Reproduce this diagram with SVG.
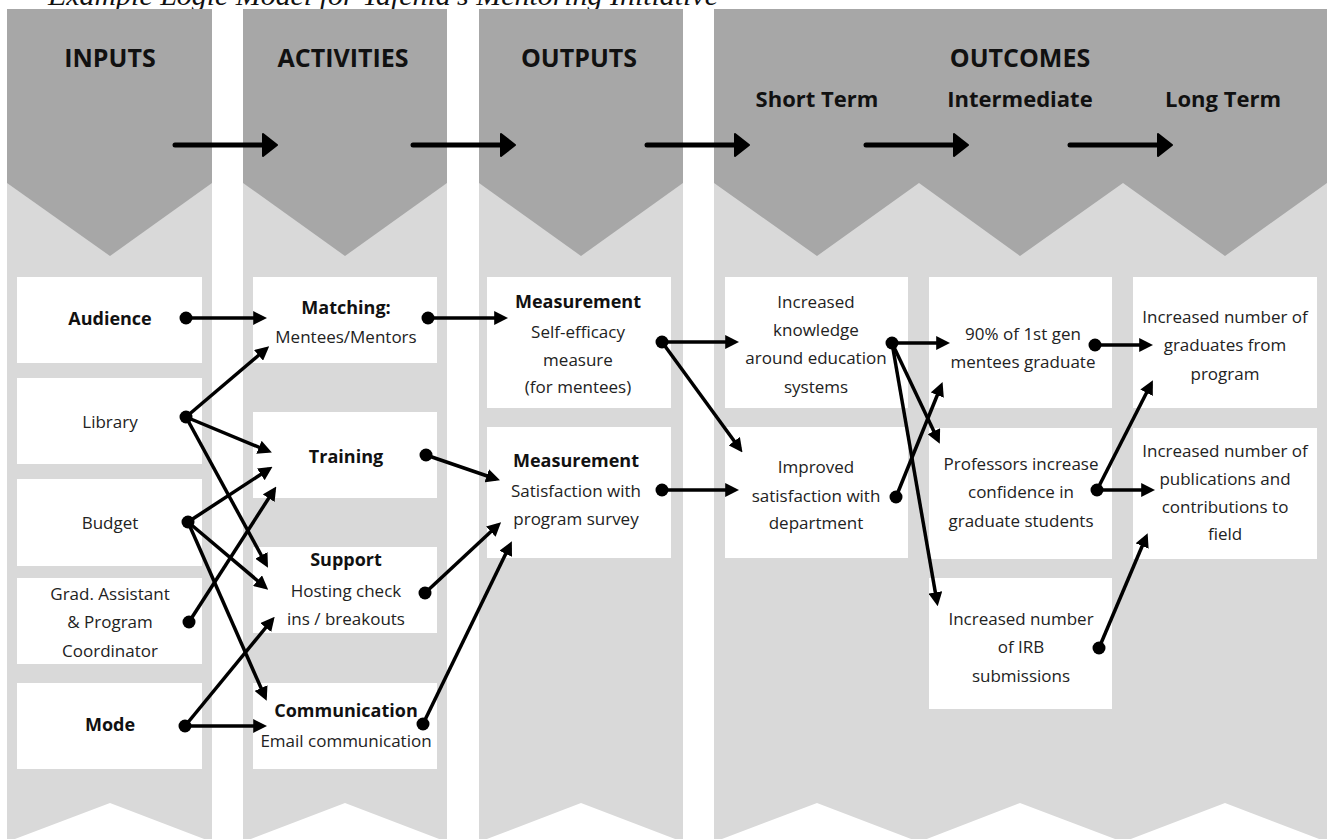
<svg xmlns="http://www.w3.org/2000/svg" width="1327" height="839" viewBox="0 0 1327 839">
<defs>
<style>
.dark{fill:#a7a7a7}
.light{fill:#d9d9d9}
.box{fill:#ffffff}
.h1{font-family:"Open Sans","Noto Sans",sans-serif;font-weight:bold;font-size:25px;fill:#111;text-anchor:middle}
.h2{font-family:"Open Sans","Noto Sans",sans-serif;font-weight:bold;font-size:22px;fill:#111;text-anchor:middle}
.b{font-family:"Open Sans","Noto Sans",sans-serif;font-weight:bold;font-size:18px;fill:#111;text-anchor:middle}
.t{font-family:"Open Sans","Noto Sans",sans-serif;font-size:17px;fill:#222;text-anchor:middle}
.title{font-family:"Liberation Serif",serif;font-style:italic;font-size:28px;fill:#111}
.con line{stroke:#000;stroke-width:3.5;marker-end:url(#ah)}
.con circle{fill:#000}
.flow line{stroke:#000;stroke-width:5;stroke-linecap:round;marker-end:url(#bah)}
</style>
<marker id="ah" viewBox="0 0 10 10" markerUnits="userSpaceOnUse" markerWidth="14" markerHeight="14" refX="7" refY="5" orient="auto">
<path d="M0,0 L10,5 L0,10 z" fill="#000"/>
</marker>
<marker id="bah" viewBox="0 0 16 24" markerUnits="userSpaceOnUse" markerWidth="16" markerHeight="24" refX="10" refY="12" orient="auto">
<path d="M1,1 L15,12 L1,23 z" fill="#000" stroke="#000" stroke-width="2" stroke-linejoin="round"/>
</marker>
</defs>
<rect width="1327" height="839" fill="#ffffff"/>
<text class="title" x="48" y="5" textLength="670" lengthAdjust="spacingAndGlyphs">Example Logic Model for Yafenia's Mentoring Initiative</text>

<g id="columns">
<polygon class="light" points="7,9 212,9 212,842 110,803 7,842"/>
<polygon class="dark" points="7,9 212,9 212,183 110,256 7,183"/>
<polygon class="light" points="243,9 447,9 447,842 345,803 243,842"/>
<polygon class="dark" points="243,9 447,9 447,183 345,256 243,183"/>
<polygon class="light" points="479,9 683,9 683,842 581,803 479,842"/>
<polygon class="dark" points="479,9 683,9 683,183 581,256 479,183"/>
<polygon class="light" points="714,9 1327,9 1327,842 1225,803 1123,842 1020,803 919,842 817,803 714,842"/>
<polygon class="dark" points="714,9 1327,9 1327,183 1225,256 1123,183 1020,256 919,183 817,256 714,183"/>
</g>

<g id="headers">
<text class="h1" x="110" y="67">INPUTS</text>
<text class="h1" x="343" y="67">ACTIVITIES</text>
<text class="h1" x="579" y="67">OUTPUTS</text>
<text class="h1" x="1020" y="67">OUTCOMES</text>
<text class="h2" x="817" y="107">Short Term</text>
<text class="h2" x="1020" y="107">Intermediate</text>
<text class="h2" x="1223" y="107">Long Term</text>
</g>

<g id="flow" class="flow">
<line x1="175" y1="145" x2="272" y2="145"/>
<line x1="413" y1="145" x2="510" y2="145"/>
<line x1="647" y1="145" x2="744" y2="145"/>
<line x1="866" y1="145" x2="963" y2="145"/>
<line x1="1070" y1="145" x2="1167" y2="145"/>
</g>

<g id="audience"><rect class="box" x="17" y="277" width="185" height="86"/><text class="b" x="110" y="325">Audience</text></g>
<g id="library"><rect class="box" x="17" y="378" width="185" height="86"/><text class="t" x="110" y="428">Library</text></g>
<g id="budget"><rect class="box" x="17" y="479" width="185" height="87"/><text class="t" x="110" y="529">Budget</text></g>
<g id="grad"><rect class="box" x="17" y="578" width="185" height="86"/><text class="t" x="110" y="600">Grad. Assistant</text><text class="t" x="110" y="628">&amp; Program</text><text class="t" x="110" y="657">Coordinator</text></g>
<g id="mode"><rect class="box" x="17" y="683" width="185" height="86"/><text class="b" x="110" y="731">Mode</text></g>

<g id="matching"><rect class="box" x="253" y="277" width="184" height="86"/><text class="b" x="346" y="314">Matching:</text><text class="t" x="346" y="343">Mentees/Mentors</text></g>
<g id="training"><rect class="box" x="253" y="412" width="184" height="86"/><text class="b" x="346" y="463">Training</text></g>
<g id="support"><rect class="box" x="253" y="547" width="184" height="86"/><text class="b" x="346" y="566">Support</text><text class="t" x="346" y="597">Hosting check</text><text class="t" x="346" y="625">ins / breakouts</text></g>
<g id="communication"><rect class="box" x="253" y="683" width="184" height="86"/><text class="b" x="346" y="717">Communication</text><text class="t" x="346" y="747">Email communication</text></g>

<g id="measurement1"><rect class="box" x="487" y="277" width="184" height="131"/><text class="b" x="578" y="308">Measurement</text><text class="t" x="578" y="338">Self-efficacy</text><text class="t" x="578" y="366">measure</text><text class="t" x="578" y="393">(for mentees)</text></g>
<g id="measurement2"><rect class="box" x="487" y="427" width="184" height="131"/><text class="b" x="576" y="467">Measurement</text><text class="t" x="576" y="497">Satisfaction with</text><text class="t" x="576" y="525">program survey</text></g>

<g id="knowledge"><rect class="box" x="725" y="277" width="183" height="131"/><text class="t" x="816" y="308">Increased</text><text class="t" x="816" y="336">knowledge</text><text class="t" x="816" y="364">around education</text><text class="t" x="816" y="393">systems</text></g>
<g id="improved"><rect class="box" x="725" y="427" width="183" height="131"/><text class="t" x="816" y="473">Improved</text><text class="t" x="816" y="502">satisfaction with</text><text class="t" x="816" y="529">department</text></g>

<g id="graduate90"><rect class="box" x="929" y="277" width="183" height="131"/><text class="t" x="1023" y="340">90% of 1st gen</text><text class="t" x="1023" y="368">mentees graduate</text></g>
<g id="professors"><rect class="box" x="929" y="428" width="183" height="131"/><text class="t" x="1021" y="470">Professors increase</text><text class="t" x="1021" y="498">confidence in</text><text class="t" x="1021" y="527">graduate students</text></g>
<g id="irb"><rect class="box" x="929" y="578" width="183" height="131"/><text class="t" x="1021" y="625">Increased number</text><text class="t" x="1021" y="653">of IRB</text><text class="t" x="1021" y="682">submissions</text></g>

<g id="graduates"><rect class="box" x="1133" y="277" width="184" height="131"/><text class="t" x="1225" y="323">Increased number of</text><text class="t" x="1225" y="351">graduates from</text><text class="t" x="1225" y="380">program</text></g>
<g id="publications"><rect class="box" x="1133" y="428" width="184" height="131"/><text class="t" x="1225" y="457">Increased number of</text><text class="t" x="1225" y="485">publications and</text><text class="t" x="1225" y="513">contributions to</text><text class="t" x="1225" y="540">field</text></g>

<g id="connectors" class="con">
<line x1="186" y1="318" x2="263" y2="318"/>
<line x1="186" y1="417" x2="266" y2="349"/>
<line x1="186" y1="417" x2="268" y2="451"/>
<line x1="186" y1="417" x2="266" y2="564"/>
<line x1="188" y1="522" x2="269" y2="469"/>
<line x1="188" y1="522" x2="265" y2="587"/>
<line x1="188" y1="522" x2="265" y2="697"/>
<line x1="189" y1="622" x2="274" y2="490"/>
<line x1="185" y1="726" x2="272" y2="620"/>
<line x1="185" y1="726" x2="263" y2="726"/>
<line x1="428" y1="318" x2="504" y2="318"/>
<line x1="426" y1="455" x2="496" y2="479"/>
<line x1="425" y1="593" x2="498" y2="525"/>
<line x1="423" y1="724" x2="510" y2="545"/>
<line x1="662" y1="342" x2="735" y2="342"/>
<line x1="662" y1="342" x2="740" y2="449"/>
<line x1="662" y1="490" x2="735" y2="490"/>
<line x1="892" y1="343" x2="946" y2="343"/>
<line x1="892" y1="343" x2="938" y2="440"/>
<line x1="892" y1="343" x2="937" y2="602"/>
<line x1="896" y1="497" x2="941" y2="386"/>
<line x1="1095" y1="345" x2="1149" y2="345"/>
<line x1="1097" y1="490" x2="1151" y2="384"/>
<line x1="1097" y1="490" x2="1151" y2="490"/>
<line x1="1099" y1="648" x2="1146" y2="537"/>
<circle cx="186" cy="318" r="6.5"/>
<circle cx="186" cy="417" r="6.5"/>
<circle cx="188" cy="522" r="6.5"/>
<circle cx="189" cy="622" r="6.5"/>
<circle cx="185" cy="726" r="6.5"/>
<circle cx="428" cy="318" r="6.5"/>
<circle cx="426" cy="455" r="6.5"/>
<circle cx="425" cy="593" r="6.5"/>
<circle cx="423" cy="724" r="6.5"/>
<circle cx="662" cy="342" r="6.5"/>
<circle cx="662" cy="490" r="6.5"/>
<circle cx="892" cy="343" r="6.5"/>
<circle cx="896" cy="497" r="6.5"/>
<circle cx="1095" cy="345" r="6.5"/>
<circle cx="1097" cy="490" r="6.5"/>
<circle cx="1099" cy="648" r="6.5"/>
</g>
</svg>
